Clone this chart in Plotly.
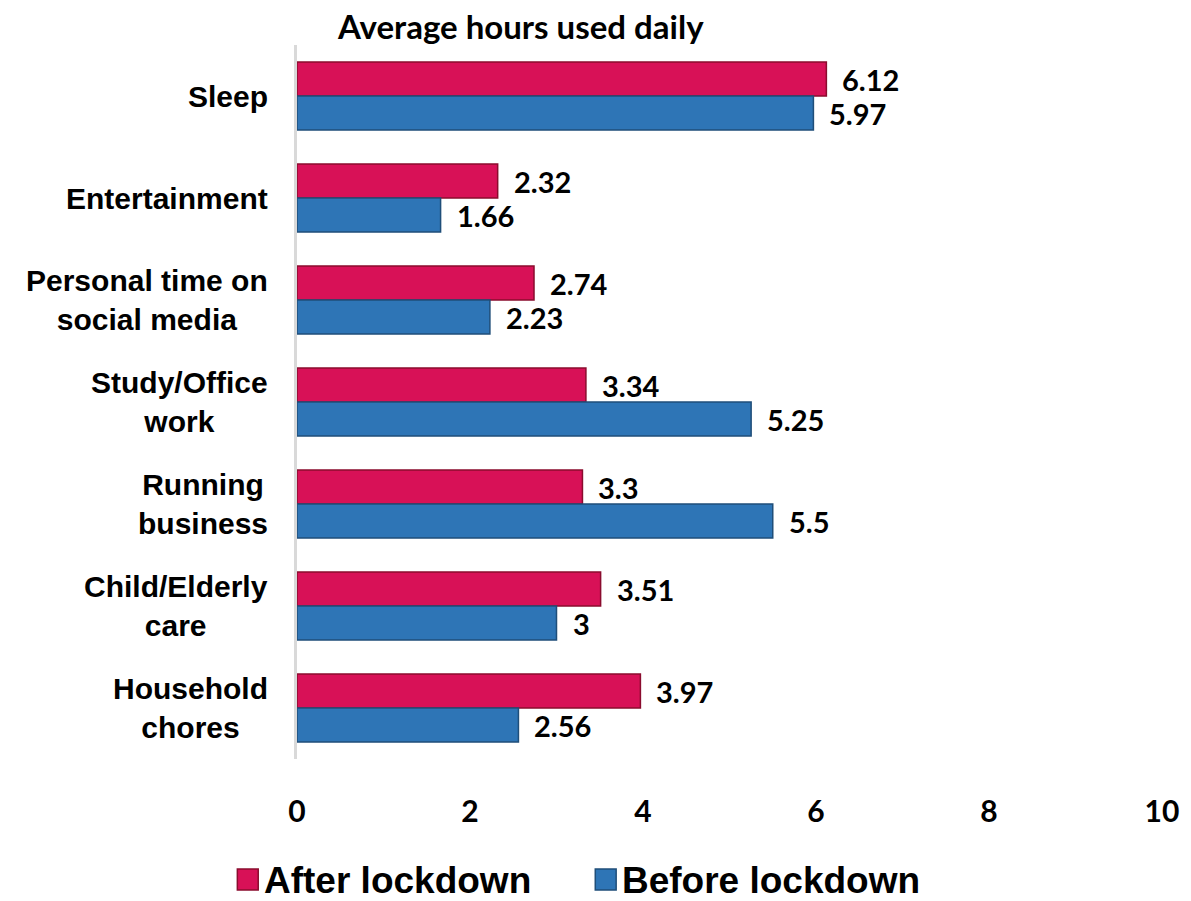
import plotly.graph_objects as go

categories = ["Sleep", "Entertainment", "Personal time on<br>social media",
              "Study/Office<br>work", "Running<br>business",
              "Child/Elderly<br>care", "Household<br>chores"]
after_lockdown = [6.12, 2.32, 2.74, 3.34, 3.3, 3.51, 3.97]
before_lockdown = [5.97, 1.66, 2.23, 5.25, 5.5, 3.0, 2.56]
series_names = ["After lockdown", "Before lockdown"]
x_ticks = [0, 2, 4, 6, 8, 10]

RED = "#D81157"
RED_EDGE = "#8A0C2E"
BLUE = "#2E75B6"
BLUE_EDGE = "#1F4E79"
LABEL_FONT = "Lato, 'Open Sans', sans-serif"
CAT_FONT = "Liberation Sans, Arial, sans-serif"

W, H = 1191, 901
M_L, M_R, M_T, M_B = 297, 24, 45, 142
PLOT_W = W - M_L - M_R
PLOT_H = H - M_T - M_B


def px_x(px):
    """Pixel column -> paper x."""
    return (px - M_L) / PLOT_W


def px_y(py):
    """Pixel row -> paper y."""
    return (H - M_B - py) / PLOT_H


fig = go.Figure()
fig.add_trace(go.Bar(
    y=categories, x=after_lockdown, orientation="h", name=series_names[0],
    marker=dict(color=RED, line=dict(color=RED_EDGE, width=1.5)),
    showlegend=False,
))
fig.add_trace(go.Bar(
    y=categories, x=before_lockdown, orientation="h", name=series_names[1],
    marker=dict(color=BLUE, line=dict(color=BLUE_EDGE, width=1.5)),
    showlegend=False,
))

annotations = []
shapes = []
# value labels to the right of each bar
for cat, a, b in zip(categories, after_lockdown, before_lockdown):
    for val, shift in ((a, 17), (b, -17)):
        annotations.append(dict(
            x=val, y=cat, xref="x", yref="y", text=f"{val:g}",
            showarrow=False, xanchor="left", yanchor="middle",
            xshift=14, yshift=shift,
            font=dict(family=LABEL_FONT, size=29, color="#000000", weight="bold"),
        ))
# category labels, centred line-by-line
for cat in categories:
    annotations.append(dict(
        x=0, y=cat, xref="paper", yref="y", text=f"<b>{cat}</b>",
        showarrow=False, xanchor="right", yanchor="middle", align="center",
        xshift=-27,
        font=dict(family=CAT_FONT, size=30, color="#000000"),
    ))
# chart title
annotations.append(dict(
    x=px_x(522), y=px_y(26), xref="paper", yref="paper",
    text="<b>Average hours used daily</b>",
    showarrow=False, xanchor="center", yanchor="middle",
    font=dict(family=LABEL_FONT, size=33, color="#000000"),
))

# legend: square swatch + label for each series
legend_items = [(series_names[0], RED, RED_EDGE, 237),
                (series_names[1], BLUE, BLUE_EDGE, 597)]
for name, fill, edge, left in legend_items:
    shapes.append(dict(
        type="rect", xref="paper", yref="paper",
        x0=px_x(left), x1=px_x(left + 21), y0=px_y(890), y1=px_y(869),
        fillcolor=fill, line=dict(color=edge, width=1.5),
    ))
    annotations.append(dict(
        x=px_x(left + 25), y=px_y(880), xref="paper", yref="paper",
        text=f"<b>{name}</b>", showarrow=False, xanchor="left", yanchor="middle",
        font=dict(family=CAT_FONT, size=37, color="#000000"),
    ))

fig.update_layout(
    width=W, height=H,
    margin=dict(l=M_L, r=M_R, t=M_T, b=M_B),
    paper_bgcolor="white", plot_bgcolor="white",
    barmode="group", bargap=0.333, bargroupgap=0,
    showlegend=False,
    annotations=annotations,
    shapes=shapes,
    xaxis=dict(
        range=[0, 10], tickvals=x_ticks, showgrid=False, zeroline=False,
        showline=False, ticks="outside", ticklen=26, tickcolor="rgba(0,0,0,0)",
        tickfont=dict(family=LABEL_FONT, size=30, color="#000000", weight="bold"),
    ),
    yaxis=dict(
        autorange="reversed", showticklabels=False, showgrid=False,
        zeroline=False, showline=True, linecolor="#D9D9D9", linewidth=3,
        ticks="",
    ),
)

fig.write_html("out.html")
